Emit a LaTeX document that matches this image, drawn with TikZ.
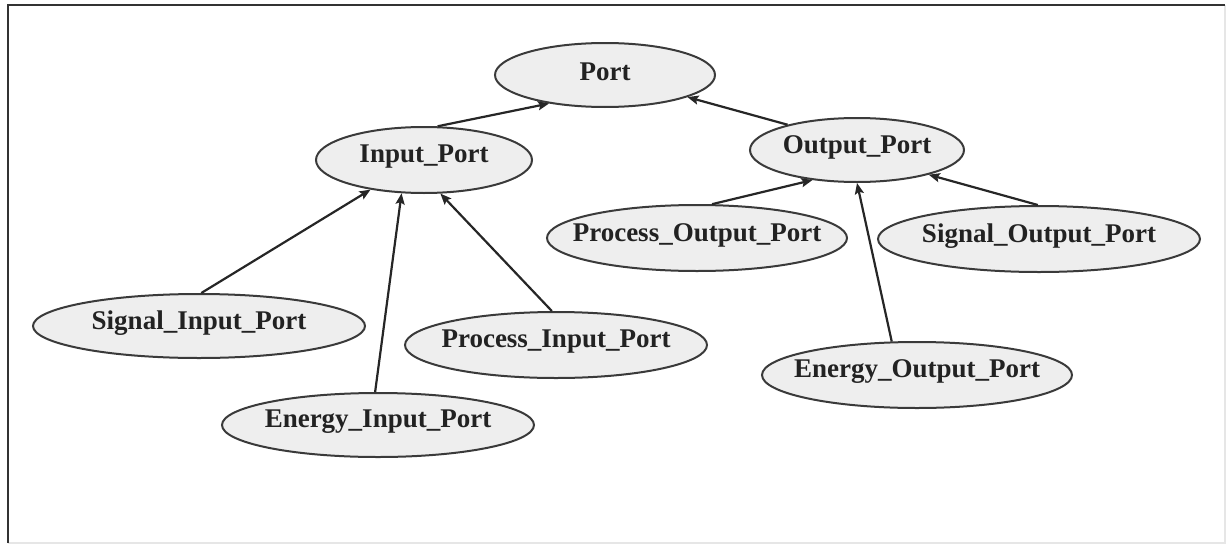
\documentclass[tikz,border=0pt]{standalone}
\usepackage{fontspec}
\setmainfont{Liberation Serif}
\usetikzlibrary{shapes.geometric,arrows.meta}
\definecolor{nodefill}{HTML}{EEEEEE}
\definecolor{nodeline}{HTML}{3A3A3A}
\definecolor{nodetext}{HTML}{222222}
\definecolor{framedark}{HTML}{333333}
\definecolor{framelight}{HTML}{E6E6E6}
\tikzset{
  % ellipse of a fixed size, its name set as a centred label
  cls/.style={ellipse, draw=nodeline, fill=nodefill, line width=2pt,
    inner sep=0pt,
    label={[text=nodetext, inner sep=0pt, yshift=3pt,
      font=\fontsize{27}{30}\selectfont\bfseries]center:#1}},
  isa/.style={draw=black!85, line width=2.2pt,
    -{Stealth[length=11pt,width=9pt,inset=2pt]}},
}
\begin{document}
\begin{tikzpicture}[x=1pt,y=-1pt]
  \useasboundingbox (0,0) rectangle (1228,546);
  % frame
  \draw[framelight, line width=1.5pt] (1225,5) -- (1225,543) -- (8,543);
  \draw[framedark, line width=2pt] (8,543) -- (8,5) -- (1225,5);

  % class nodes
  \node[cls=Port, minimum width=220pt, minimum height=64pt] (port) at (605,75) {};
  \node[cls=Input\_Port, minimum width=216pt, minimum height=66pt] (inp) at (424,160) {};
  \node[cls=Output\_Port, minimum width=214pt, minimum height=64pt] (outp) at (857,150) {};
  \node[cls=Signal\_Input\_Port, minimum width=332pt, minimum height=64pt] (sigin) at (199,326) {};
  \node[cls=Energy\_Input\_Port, minimum width=312pt, minimum height=64pt] (enin) at (378,425) {};
  \node[cls=Process\_Input\_Port, minimum width=302pt, minimum height=66pt] (procin) at (556,345) {};
  \node[cls=Process\_Output\_Port, minimum width=300pt, minimum height=66pt] (procout) at (697,238) {};
  \node[cls=Signal\_Output\_Port, minimum width=322pt, minimum height=66pt] (sigout) at (1039,239) {};
  \node[cls=Energy\_Output\_Port, minimum width=310pt, minimum height=66pt] (enout) at (917,375) {};

  % generalisation edges
  \draw[isa] (inp.68) -- (port.207);
  \draw[isa] (outp.160) -- (port.345);
  \draw[isa] (sigin.86) -- (inp.209);
  \draw[isa] (enin.95) -- (inp.236);
  \draw[isa] (procin.97) -- (inp.296);
  \draw[isa] (procout.66) -- (outp.214);
  \draw[isa] (enout.127) -- (outp.270);
  \draw[isa] (sigout.92) -- (outp.341);
\end{tikzpicture}
\end{document}
